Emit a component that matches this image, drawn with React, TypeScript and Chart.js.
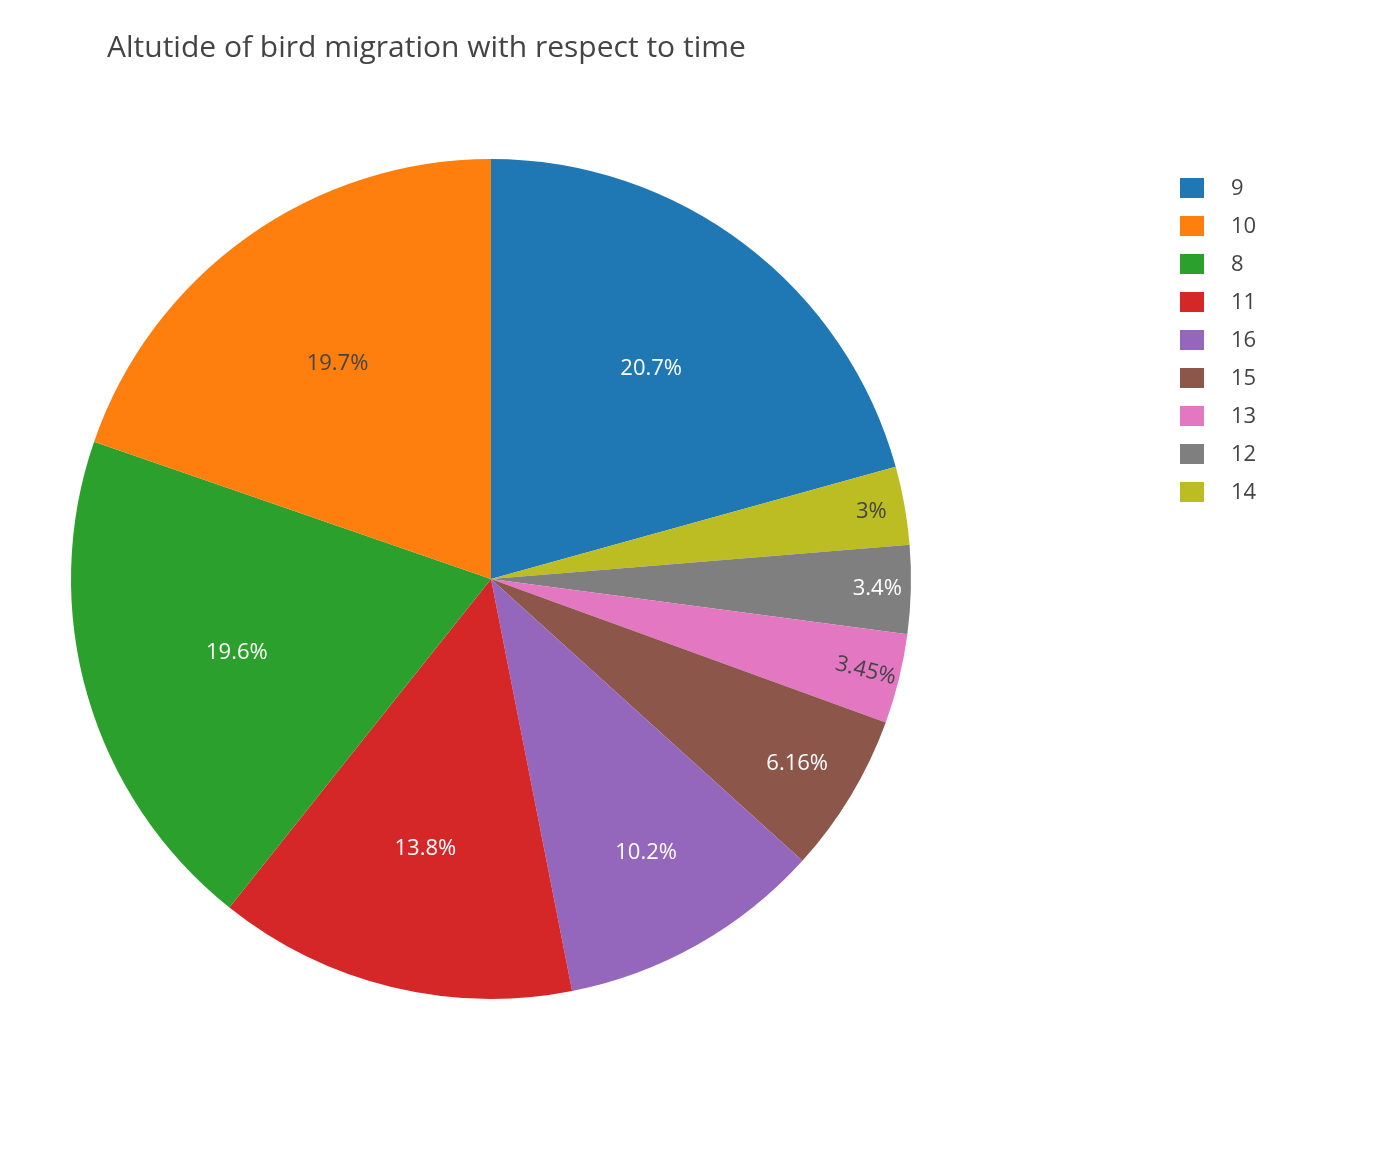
import React, { useEffect, useRef } from "react";
import { Chart, registerables } from "chart.js";
Chart.register(...registerables);

const labels = ["9", "14", "12", "13", "15", "16", "11", "8", "10"];
const values = [20.7, 3, 3.4, 3.45, 6.16, 10.2, 13.8, 19.6, 19.7];
const colors = ["#1f77b4", "#bcbd22", "#7f7f7f", "#e377c2", "#8c564b", "#9467bd", "#d62728", "#2ca02c", "#ff7f0e"];
const darkText = ["14", "13", "10"];
const rotated = ["13"];
const legendOrder = ["9", "10", "8", "11", "16", "15", "13", "12", "14"];
const title = "Altutide of bird migration with respect to time";
const FONT = '"Open Sans", sans-serif';

const overlay = {
  id: "overlay",
  afterDraw(chart: any) {
    const ctx = chart.ctx;
    ctx.save();
    ctx.fillStyle = "#444";
    ctx.font = `30px ${FONT}`;
    ctx.textBaseline = "middle";
    ctx.textAlign = "left";
    ctx.fillText(title, 107, 48);
    const meta = chart.getDatasetMeta(0);
    const total = values.reduce((a, b) => a + b, 0);
    meta.data.forEach((arc: any, i: number) => {
      const p = (values[i] / total) * 100;
      let f = p >= 15 ? 0.63 : Math.min(0.92, 0.63 + ((15 - p) / 12) * 0.3);
      const mid = (arc.startAngle + arc.endAngle) / 2;
      const r = arc.outerRadius * f;
      const x = arc.x + Math.cos(mid) * r;
      const y = arc.y + Math.sin(mid) * r;
      const txt = (Math.round(p * 100) / 100).toString() + "%";
      ctx.save();
      ctx.translate(x, y);
      if (rotated.includes(labels[i])) ctx.rotate(mid);
      ctx.font = `22px ${FONT}`;
      ctx.textAlign = "center";
      ctx.textBaseline = "middle";
      ctx.fillStyle = darkText.includes(labels[i]) ? "#444" : "#fff";
      ctx.fillText(txt, 0, 0);
      ctx.restore();
    });
    legendOrder.forEach((l, k) => {
      const i = labels.indexOf(l);
      const y = 188 + k * 38;
      ctx.fillStyle = colors[i];
      ctx.fillRect(1180, y - 10, 24, 20);
      ctx.fillStyle = "#444";
      ctx.font = `22px ${FONT}`;
      ctx.textAlign = "left";
      ctx.textBaseline = "middle";
      ctx.fillText(l, 1231, y + 1);
    });
    ctx.restore();
  },
};

export default function App() {
  const ref = useRef<HTMLCanvasElement>(null);
  useEffect(() => {
    document.body.style.margin = "0";
    const chart = new Chart(ref.current!, {
      type: "pie",
      data: {
        labels,
        datasets: [{ data: values, backgroundColor: colors, borderWidth: 0 }],
      },
      options: {
        animation: false,
        responsive: false,
        layout: { padding: { left: 71, right: 476, top: 159, bottom: 173 } },
        plugins: { legend: { display: false }, tooltip: { enabled: false } },
      },
      plugins: [overlay],
    });
    return () => chart.destroy();
  }, []);
  return <canvas ref={ref} width={1387} height={1172} style={{ display: "block", background: "#fff" }} />;
}
